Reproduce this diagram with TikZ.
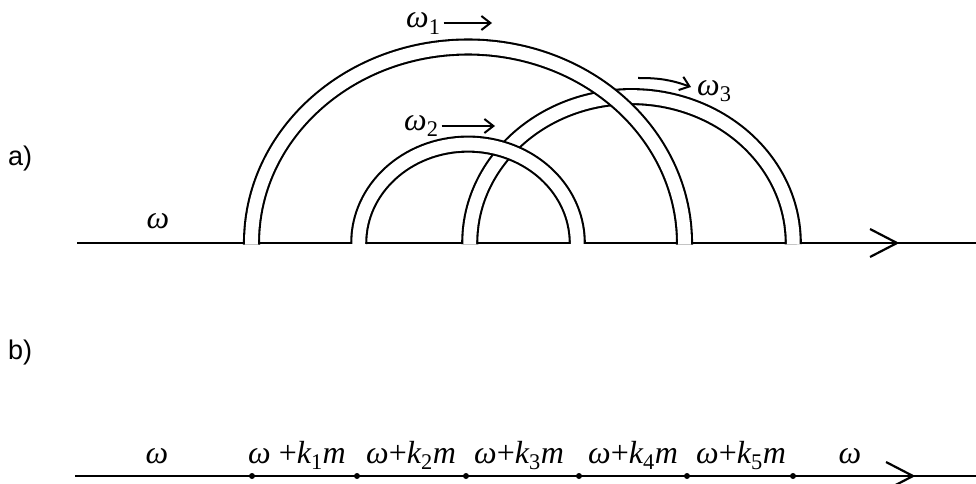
\documentclass[tikz,border=0pt]{standalone}
\usepackage{fontspec}
\setmainfont{Liberation Serif}
\newfontfamily\labsans{Liberation Sans}
\usetikzlibrary{arrows.meta}
\newcommand\wk[1]{ω{\upshape+}k\textsubscript{\upshape #1}m}
\begin{document}
\begin{tikzpicture}[x=1pt,y=1pt,
  tube/.style={draw=black, line width=2.1pt, double=white, double distance=12.9pt},
  wire/.style={line width=2.2pt},
  lab/.style={font=\fontsize{32}{34}\selectfont\itshape, inner sep=0pt},
  panel/.style={font=\labsans\fontsize{27}{30}\selectfont, inner sep=0pt},
  flow/.style={line width=2pt, -{Straight Barb[length=9pt,width=14pt,line width=2pt]}},
  barb/.style={line width=2.2pt},
  dot/.style={circle, fill=black, inner sep=0pt, minimum size=6pt}
]
\useasboundingbox (0,0) rectangle (976,483);

% ---------- a) ----------
\node[panel, anchor=base west] (pa) at (8,318) {a)};
\coordinate (aL) at (77,240);
\coordinate (aR) at (976,240);
\coordinate (tipA) at (897,240);
\draw[wire] (aL) -- (aR);
\draw[barb] ([shift={(-27,14)}]tipA) -- (tipA) -- ([shift={(-27,-14)}]tipA);

\coordinate (c1) at (468,240);
\coordinate (c3) at (631.5,240);
% arc 3 (underneath)
\draw[tube] ([shift={(180.5:161.75 and 146.4)}]c3) arc[start angle=180.5, end angle=-0.5, x radius=161.75, y radius=146.4];
% arc 1
\draw[tube] ([shift={(180.5:216.5 and 196)}]c1) arc[start angle=180.5, end angle=-0.5, x radius=216.5, y radius=196];
% arc 2
\draw[tube] ([shift={(180.5:109.25 and 98.9)}]c1) arc[start angle=180.5, end angle=-0.5, x radius=109.25, y radius=98.9];

\node[lab, anchor=base] (wa) at (158,255) {ω};

\node[lab, anchor=base west] (w1) at (406,455) {ω\textsubscript{\upshape 1}};
\coordinate (w1e) at (492,460);
\draw[flow] ([xshift=3pt,yshift=5pt]w1.base east) -- (w1e);

\node[lab, anchor=base west] (w2) at (404,353) {ω\textsubscript{\upshape 2}};
\coordinate (w2e) at (495,357);
\draw[flow] ([xshift=3pt,yshift=4pt]w2.base east) -- (w2e);

\node[lab, anchor=base west] (w3) at (697,388) {ω\textsubscript{\upshape 3}};
\coordinate (w3s) at (638,405);
\coordinate (w3e) at (691,396);
\draw[flow] (w3s) to[bend left=10] (w3e);

% ---------- b) ----------
\node[panel, anchor=base west] (pb) at (8,124) {b)};
\coordinate (bL) at (75,7);
\coordinate (bR) at (976,7);
\coordinate (tipB) at (913,7);
\draw[wire] (bL) -- (bR);
\draw[barb] ([shift={(-27,14)}]tipB) -- (tipB) -- ([shift={(-27,-14)}]tipB);

\foreach \n/\x in {1/252,2/357,3/466,4/579,5/687,6/793}
  \node[dot] (d\n) at (\x,7) {};

\node[lab, anchor=base] (b0) at (157,20) {ω};
\node[lab, anchor=base west] (b1) at (248,20) {ω\ {\upshape+}k\textsubscript{\upshape 1}m};
\node[lab, anchor=base west] (b2) at (366,20) {\wk{2}};
\node[lab, anchor=base west] (b3) at (474,20) {\wk{3}};
\node[lab, anchor=base west] (b4) at (588,20) {\wk{4}};
\node[lab, anchor=base west] (b5) at (696,20) {\wk{5}};
\node[lab, anchor=base] (b6) at (850,20) {ω};
\end{tikzpicture}
\end{document}
